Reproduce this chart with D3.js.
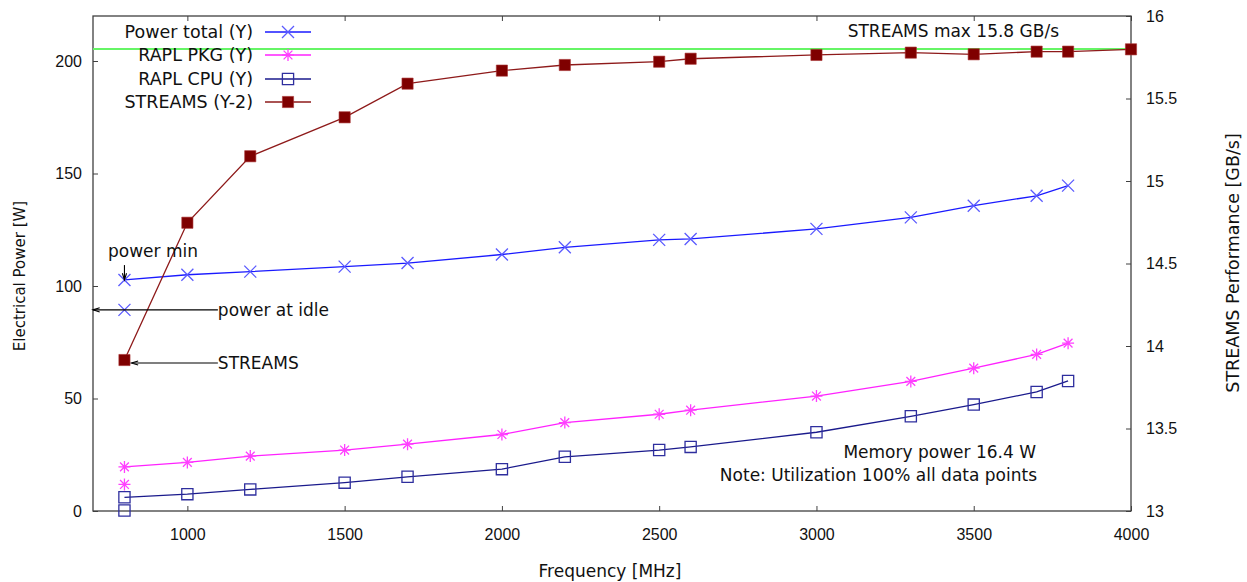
<!DOCTYPE html>
<html>
<head>
<meta charset="utf-8">
<script src="https://cdn.jsdelivr.net/npm/d3@7"></script>
<style>
  html, body { margin: 0; padding: 0; background: #fff; }
  svg { display: block; font-family: "DejaVu Sans", Verdana, sans-serif; }
  .tick text { fill: #111; font-size: 16px; }
</style>
</head>
<body>
<svg id="chart" width="1247" height="582"></svg>
<script>
// ---- data ----------------------------------------------------------------
const freqMHz      = [800, 1000, 1200, 1500, 1700, 2000, 2200, 2500, 2600, 3000, 3300, 3500, 3700, 3800];
const powerTotal   = [102.7, 105.0, 106.4, 108.6, 110.2, 114.0, 117.2, 120.5, 120.9, 125.4, 130.5, 135.7, 140.1, 144.6];
const raplPkg      = [19.6, 21.6, 24.4, 27.1, 29.7, 34.0, 39.3, 43.0, 44.8, 51.1, 57.6, 63.5, 69.6, 74.6];
const raplCpu      = [6.1, 7.5, 9.6, 12.6, 15.2, 18.6, 24.1, 27.1, 28.5, 35.0, 42.1, 47.3, 52.9, 57.8];

const streamsFreq  = [800, 1000, 1200, 1500, 1700, 2000, 2200, 2500, 2600, 3000, 3300, 3500, 3700, 3800, 4000];
const streamsGBs   = [13.915, 14.747, 15.15, 15.386, 15.59, 15.669, 15.703, 15.723, 15.741, 15.764, 15.778, 15.768, 15.784, 15.784, 15.798];

// idle readings, measured at the lowest frequency
const idleFreq     = 800;
const idlePower    = 89.4;
const idlePkg      = 11.8;
const idleCpu      = 0.2;

const streamsMax   = 15.8;

const xTicks       = [1000, 1500, 2000, 2500, 3000, 3500, 4000];
const yTicks       = [0, 50, 100, 150, 200];
const y2Ticks      = [13, 13.5, 14, 14.5, 15, 15.5, 16];

const seriesNames  = ["Power total (Y)", "RAPL PKG (Y)", "RAPL CPU (Y)", "STREAMS (Y-2)"];

// ---- layout --------------------------------------------------------------
const svg = d3.select("#chart");
const L = 93, R = 1131, T = 16, B = 511;

const x  = d3.scaleLinear().domain([700, 4000]).range([L, R]);
const y  = d3.scaleLinear().domain([0, 220]).range([B, T]);
const y2 = d3.scaleLinear().domain([13, 16]).range([B, T]);

const style = {
  power: { line: "#1a1aff", mark: "#5a5aff", shape: "cross" },
  pkg:   { line: "#ff22ff", mark: "#ff40ff", shape: "star" },
  cpu:   { line: "#1a1a8c", mark: "#2e2e9e", shape: "square" },
  strm:  { line: "#8e1a1a", mark: "#7f0000", shape: "filled" },
  green: "#66f566",
  border: "#404040",
  text: "#111"
};

// ---- axes ----------------------------------------------------------------
const fmt = d => String(d);

svg.append("g").attr("transform", `translate(0,${B})`)
  .call(d3.axisBottom(x).tickValues(xTicks).tickSize(-5).tickPadding(18).tickFormat(fmt));
svg.append("g").attr("transform", `translate(0,${T})`)
  .call(d3.axisTop(x).tickValues(xTicks).tickSize(-5).tickFormat(""));
svg.append("g").attr("transform", `translate(${L},0)`)
  .call(d3.axisLeft(y).tickValues(yTicks).tickSize(-5).tickPadding(11).tickFormat(fmt));
svg.append("g").attr("transform", `translate(${R},0)`)
  .call(d3.axisRight(y2).tickValues(y2Ticks).tickSize(-5).tickPadding(15).tickFormat(fmt));

svg.selectAll(".domain").remove();
svg.selectAll(".tick line").attr("stroke", style.border).attr("stroke-width", 1);

svg.append("rect")
  .attr("x", L).attr("y", T).attr("width", R - L).attr("height", B - T)
  .attr("fill", "none").attr("stroke", style.border).attr("stroke-width", 1.3);

// axis titles
svg.append("text")
  .attr("transform", `translate(20,276) rotate(-90)`)
  .attr("text-anchor", "middle").attr("dominant-baseline", "central")
  .attr("font-size", 15).attr("fill", style.text)
  .text("Electrical Power [W]");
svg.append("text")
  .attr("transform", `translate(1233,263) rotate(-90)`)
  .attr("text-anchor", "middle").attr("dominant-baseline", "central")
  .attr("font-size", 17.5).attr("fill", style.text)
  .text("STREAMS Performance [GB/s]");
svg.append("text")
  .attr("x", 610).attr("y", 571)
  .attr("text-anchor", "middle").attr("dominant-baseline", "central")
  .attr("font-size", 17).attr("fill", style.text)
  .text("Frequency [MHz]");

// ---- point symbols -------------------------------------------------------
function symbolPath(shape) {
  const s = 6;
  if (shape === "cross") return `M${-s},${-s}L${s},${s}M${-s},${s}L${s},${-s}`;
  if (shape === "star") {
    const d = 4.4;
    return `M${-s},0L${s},0M0,${-s}L0,${s}M${-d},${-d}L${d},${d}M${-d},${d}L${d},${-d}`;
  }
  const q = 5.6;
  return `M${-q},${-q}H${q}V${q}H${-q}Z`;
}
function drawMarks(g, pts, st) {
  g.selectAll(null).data(pts).join("path")
    .attr("transform", d => `translate(${d[0]},${d[1]})`)
    .attr("d", symbolPath(st.shape))
    .attr("fill", st.shape === "filled" ? st.mark : "none")
    .attr("stroke", st.shape === "filled" ? "#a33" : st.mark)
    .attr("stroke-width", st.shape === "filled" ? 0.6 : 1.3);
}
function drawSeries(xs, ys, yScale, st) {
  const pts = xs.map((f, i) => [x(f), yScale(ys[i])]);
  const g = svg.append("g");
  g.append("path").attr("d", d3.line()(pts))
    .attr("fill", "none").attr("stroke", st.line).attr("stroke-width", 1.3);
  drawMarks(g, pts, st);
  return g;
}

// STREAMS maximum reference line (right axis)
svg.append("line")
  .attr("x1", L).attr("x2", R)
  .attr("y1", y2(streamsMax)).attr("y2", y2(streamsMax))
  .attr("stroke", style.green).attr("stroke-width", 2);

drawSeries(freqMHz, powerTotal, y, style.power);
drawSeries(freqMHz, raplPkg, y, style.pkg);
drawSeries(freqMHz, raplCpu, y, style.cpu);
drawSeries(streamsFreq, streamsGBs, y2, style.strm);

// idle values as single points
drawMarks(svg.append("g"), [[x(idleFreq), y(idlePower)]], style.power);
drawMarks(svg.append("g"), [[x(idleFreq), y(idlePkg)]], style.pkg);
drawMarks(svg.append("g"), [[x(idleFreq), y(idleCpu)]], style.cpu);

// ---- annotations ---------------------------------------------------------
function arrow(x1, y1, x2, y2) {
  const g = svg.append("g").attr("stroke", "#000").attr("stroke-width", 1.1).attr("fill", "none");
  g.append("line").attr("x1", x1).attr("y1", y1).attr("x2", x2).attr("y2", y2);
  const a = Math.atan2(y1 - y2, x1 - x2), len = 7, spread = 0.3;
  g.append("path").attr("d",
    `M${x2 + len * Math.cos(a + spread)},${y2 + len * Math.sin(a + spread)}L${x2},${y2}` +
    `L${x2 + len * Math.cos(a - spread)},${y2 + len * Math.sin(a - spread)}`);
}
function label(txt, px, py, anchor, size) {
  svg.append("text").attr("x", px).attr("y", py)
    .attr("text-anchor", anchor || "start").attr("dominant-baseline", "central")
    .attr("font-size", size || 17).attr("fill", style.text).text(txt);
}

// power at idle: arrow to the left axis
arrow(x(1097), y(idlePower), L, y(idlePower));
label("power at idle", x(1097), y(idlePower));

// power min: arrow down onto the first point
arrow(x(idleFreq), y(109.3), x(idleFreq), y(powerTotal[0]));
label("power min", 108, 251);

// STREAMS at lowest frequency
arrow(x(1097), y2(13.897), x(idleFreq) + 7, y2(13.897));
label("STREAMS", x(1097), y2(13.897));

label("STREAMS max 15.8 GB/s", 1059, 31, "end");
label("Memory power 16.4 W", 1036, 452, "end");
label("Note: Utilization 100% all data points", 1037, 475, "end");

// ---- legend --------------------------------------------------------------
const legendStyles = [style.power, style.pkg, style.cpu, style.strm];
const legendY = [32, 55, 79, 102];
seriesNames.forEach((name, i) => {
  const st = legendStyles[i], ly = legendY[i];
  label(name, 253, ly, "end", 17.5);
  svg.append("line").attr("x1", 265).attr("x2", 311).attr("y1", ly).attr("y2", ly)
    .attr("stroke", st.line).attr("stroke-width", 1.3);
  drawMarks(svg.append("g"), [[288, ly]], st);
});
</script>
</body>
</html>
